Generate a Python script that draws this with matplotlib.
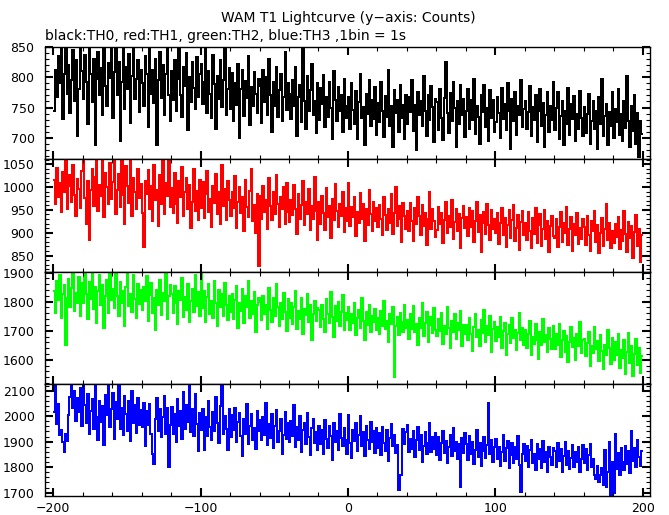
import numpy as np
import matplotlib
matplotlib.use("Agg")
import matplotlib.pyplot as plt
from matplotlib.ticker import MultipleLocator

plt.rcParams['font.family'] = ['DejaVu Sans']

title = "WAM T1 Lightcurve (y\u2212axis: Counts)"
subtitle = "black:TH0, red:TH1, green:TH2, blue:TH3 ,1bin = 1s"

t_start = -200
t_stop = 200

th0 = [
745, 812, 768, 835, 790, 852, 731, 806, 858, 772, 820, 741, 795, 846, 760, 829, 702, 781, 855, 810,
764, 838, 793, 722, 850, 805, 759, 831, 688, 797, 842, 770, 815, 738, 857, 786, 752, 824, 799, 861,
733, 809, 847, 771, 826, 694, 792, 855, 748, 818, 780, 839, 725, 803, 851, 764, 797, 829, 742, 813,
790, 752, 836, 805, 718, 849, 773, 812, 757, 831, 688, 795, 842, 766, 820, 738, 806, 854, 771, 727,
811, 763, 829, 745, 797, 852, 770, 734, 818, 786, 840, 712, 801, 759, 826, 783, 747, 834, 768, 806,
822, 756, 793, 848, 741, 810, 772, 733, 837, 789, 715, 802, 764, 829, 751, 795, 852, 738, 781, 816,
747, 807, 728, 790, 755, 823, 699, 781, 812, 736, 794, 766, 835, 721, 784, 752, 809, 773, 741, 798,
786, 724, 812, 759, 801, 738, 830, 771, 709, 793, 752, 818, 735, 779, 806, 727, 768, 843, 746, 790,
772, 731, 796, 753, 818, 702, 767, 788, 726, 849, 761, 715, 802, 744, 779, 823, 737, 760, 708, 791,
729, 782, 756, 804, 717, 768, 735, 792, 750, 698, 811, 763, 727, 784, 745, 770, 709, 797, 752, 733,
768, 714, 790, 746, 722, 777, 698, 759, 806, 733, 751, 688, 772, 740, 795, 719, 762, 731, 784, 705,
757, 726, 793, 744, 701, 769, 735, 812, 720, 752, 685, 779, 741, 763, 709, 788, 732, 755, 697, 771,
723, 768, 742, 795, 711, 754, 680, 776, 738, 761, 719, 802, 745, 702, 770, 729, 786, 751, 693, 764,
759, 712, 781, 733, 696, 766, 825, 741, 707, 774, 728, 793, 749, 684, 760, 722, 788, 737, 764, 701,
744, 781, 715, 762, 729, 798, 706, 753, 735, 690, 771, 742, 787, 718, 750, 695, 779, 732, 762, 709,
726, 768, 741, 699, 783, 731, 756, 712, 791, 745, 681, 764, 727, 776, 704, 752, 737, 795, 718, 748,
760, 715, 743, 786, 702, 751, 729, 770, 693, 744, 781, 720, 757, 685, 738, 775, 709, 753, 730, 792,
712, 749, 775, 698, 736, 761, 687, 744, 722, 783, 705, 756, 731, 769, 694, 740, 714, 778, 733, 702,
751, 707, 739, 772, 690, 728, 760, 715, 745, 681, 768, 722, 797, 703, 736, 756, 688, 743, 719, 775,
699, 748, 726, 781, 705, 739, 694, 760, 716, 803, 728, 684, 752, 711, 770, 690, 741, 667, 728, 706,
]

th1 = [
1015, 962, 1041, 978, 1009, 945, 1033, 990, 1058, 951, 1002, 1027, 968, 1049, 982, 937, 1018, 996, 953, 1035,
1066, 975, 920, 1012, 884, 994, 1040, 958, 1021, 1063, 947, 1005, 981, 1068, 935, 1030, 999, 962, 1052, 973,
1010, 1065, 941, 993, 1028, 956, 1070, 982, 919, 1045, 1003, 966, 1062, 937, 1019, 988, 951, 1039, 975, 1006,
944, 868, 1012, 985, 1038, 952, 1003, 926, 1049, 971, 993, 915, 1027, 962, 1064, 940, 1008, 981, 1066, 957,
998, 943, 1031, 962, 921, 1013, 977, 1044, 936, 989, 1020, 951, 1005, 910, 967, 1039, 948, 992, 927, 1016,
955, 1011, 932, 984, 1036, 946, 973, 912, 1002, 964, 1029, 940, 988, 919, 1047, 958, 995, 927, 1013, 971,
936, 989, 954, 1023, 910, 968, 1001, 943, 978, 904, 1016, 957, 935, 992, 1040, 926, 960, 899, 984, 828,
981, 930, 1003, 946, 972, 907, 1019, 958, 928, 990, 941, 1027, 963, 912, 977, 951, 999, 920, 1008, 945,
923, 972, 938, 1004, 951, 897, 985, 929, 960, 1012, 916, 967, 941, 995, 905, 958, 930, 1021, 947, 884,
968, 920, 981, 943, 906, 997, 935, 959, 889, 974, 927, 1006, 948, 913, 962, 936, 990, 901, 953, 925,
1008, 915, 957, 934, 978, 893, 946, 921, 987, 929, 962, 882, 951, 917, 993, 940, 904, 968, 926, 955,
912, 961, 929, 894, 977, 938, 906, 952, 921, 985, 897, 944, 1000, 915, 958, 931, 879, 965, 937, 908,
947, 903, 966, 925, 881, 954, 918, 979, 936, 895, 961, 914, 944, 872, 930, 988, 909, 951, 926, 890,
905, 956, 919, 942, 877, 928, 968, 899, 937, 913, 971, 886, 924, 951, 903, 940, 866, 933, 958, 911,
934, 892, 955, 913, 947, 879, 926, 968, 901, 939, 858, 921, 946, 897, 962, 916, 884, 950, 908, 931,
900, 942, 876, 921, 955, 894, 933, 869, 916, 949, 888, 927, 961, 882, 910, 938, 863, 924, 947, 896,
921, 884, 945, 903, 866, 932, 897, 954, 878, 916, 941, 871, 909, 950, 887, 926, 858, 914, 937, 893,
889, 931, 868, 912, 946, 880, 921, 899, 957, 873, 907, 935, 861, 918, 894, 942, 876, 910, 886, 929,
913, 872, 937, 894, 860, 925, 903, 948, 879, 916, 856, 899, 932, 870, 907, 963, 885, 921, 866, 904,
878, 919, 891, 935, 864, 906, 882, 947, 898, 857, 923, 889, 914, 845, 901, 938, 871, 909, 836, 896,
]

th2 = [
1838, 1762, 1871, 1805, 1893, 1744, 1826, 1858, 1652, 1812, 1879, 1783, 1846, 1905, 1768, 1830, 1797, 1884, 1751, 1863,
1795, 1902, 1827, 1741, 1866, 1810, 1906, 1775, 1849, 1725, 1838, 1893, 1790, 1859, 1708, 1821, 1874, 1760, 1903, 1806,
1843, 1778, 1901, 1819, 1752, 1868, 1797, 1835, 1716, 1852, 1910, 1786, 1826, 1763, 1890, 1808, 1745, 1861, 1793, 1839,
1772, 1849, 1801, 1888, 1735, 1823, 1864, 1760, 1812, 1702, 1841, 1790, 1876, 1754, 1829, 1803, 1897, 1741, 1818, 1858,
1826, 1761, 1853, 1794, 1722, 1838, 1807, 1881, 1748, 1816, 1773, 1862, 1730, 1801, 1845, 1764, 1890, 1785, 1833, 1752,
1902, 1777, 1836, 1729, 1815, 1860, 1758, 1803, 1744, 1871, 1796, 1718, 1840, 1782, 1827, 1751, 1865, 1790, 1736, 1818,
1763, 1827, 1740, 1806, 1855, 1711, 1795, 1769, 1842, 1728, 1818, 1783, 1870, 1745, 1801, 1757, 1834, 1697, 1789, 1812,
1798, 1736, 1820, 1757, 1789, 1705, 1848, 1772, 1731, 1814, 1750, 1862, 1781, 1718, 1795, 1742, 1829, 1766, 1700, 1808,
1745, 1796, 1722, 1781, 1838, 1706, 1769, 1740, 1812, 1688, 1774, 1753, 1826, 1729, 1790, 1668, 1759, 1803, 1735, 1777,
1772, 1712, 1790, 1741, 1697, 1808, 1756, 1726, 1833, 1749, 1680, 1784, 1735, 1798, 1715, 1765, 1822, 1704, 1760, 1738,
1781, 1703, 1757, 1726, 1795, 1684, 1743, 1770, 1711, 1812, 1732, 1668, 1764, 1720, 1789, 1695, 1750, 1729, 1776, 1702,
1745, 1690, 1768, 1718, 1802, 1707, 1733, 1663, 1756, 1724, 1781, 1542, 1715, 1749, 1686, 1762, 1731, 1697, 1790, 1709,
1736, 1673, 1758, 1706, 1784, 1695, 1722, 1650, 1743, 1711, 1795, 1682, 1728, 1765, 1660, 1719, 1748, 1691, 1777, 1702,
1683, 1741, 1699, 1762, 1655, 1718, 1690, 1781, 1711, 1640, 1733, 1695, 1756, 1672, 1727, 1703, 1768, 1646, 1720, 1689,
1721, 1667, 1745, 1690, 1632, 1712, 1759, 1680, 1703, 1647, 1738, 1694, 1773, 1660, 1715, 1686, 1750, 1628, 1706, 1729,
1664, 1713, 1679, 1749, 1642, 1698, 1728, 1618, 1689, 1721, 1657, 1743, 1674, 1701, 1635, 1693, 1760, 1667, 1709, 1650,
1702, 1640, 1688, 1733, 1615, 1679, 1655, 1724, 1668, 1604, 1695, 1651, 1742, 1662, 1687, 1628, 1710, 1671, 1639, 1715,
1638, 1690, 1651, 1722, 1609, 1667, 1699, 1626, 1681, 1592, 1660, 1713, 1643, 1676, 1600, 1688, 1647, 1731, 1622, 1669,
1671, 1612, 1659, 1697, 1580, 1648, 1624, 1712, 1636, 1665, 1597, 1687, 1630, 1568, 1652, 1618, 1702, 1641, 1586, 1676,
1598, 1660, 1617, 1689, 1572, 1635, 1606, 1668, 1553, 1627, 1694, 1589, 1648, 1545, 1620, 1671, 1581, 1640, 1556, 1612,
]

th3 = [
2018, 2121, 1968, 2047, 1925, 1944, 1897, 1858, 1932, 1904, 2005, 2076, 2128, 2032, 2099, 1983, 2070, 2015, 2110, 1962,
2130, 2044, 1975, 2088, 1930, 2022, 2067, 1951, 2126, 1996, 1908, 2059, 1977, 2041, 1886, 2083, 2005, 2131, 1958, 2030,
2092, 1911, 2055, 1987, 2127, 1949, 2034, 1926, 2078, 2008, 1940, 2061, 1902, 2097, 1972, 2043, 1935, 2070, 1964, 2025,
1956, 2052, 1885, 2019, 1967, 2048, 1931, 1852, 1812, 1990, 2071, 1943, 2027, 1918, 1995, 2080, 1929, 2033, 1801, 1966,
2037, 1932, 2008, 1900, 2066, 1963, 2021, 1912, 2094, 1951, 2045, 1978, 2122, 1936, 2030, 1921, 2087, 1969, 1862, 2013,
1944, 2027, 1866, 1995, 1921, 2058, 1957, 1908, 2017, 1940, 2075, 1973, 1893, 2040, 2128, 1931, 2001, 1950, 1868, 2029,
1917, 2003, 1946, 2031, 1898, 1978, 2014, 1922, 1843, 1987, 1931, 2046, 1889, 1963, 2010, 1908, 1952, 1871, 2022, 1940,
1984, 1905, 1998, 1927, 2053, 1888, 1969, 1916, 2008, 1874, 1960, 2024, 1899, 1942, 1990, 1850, 1928, 2015, 1911, 1973,
1898, 1981, 1922, 2043, 1880, 1957, 1906, 2000, 1861, 1946, 1975, 1890, 2012, 1918, 1847, 1953, 1989, 1893, 1936, 1868,
1962, 1889, 1945, 1852, 1985, 1910, 1874, 1960, 1921, 1830, 1972, 1899, 1940, 1866, 2010, 1915, 1882, 1953, 1905, 1851,
2003, 1893, 1836, 1944, 1902, 1975, 1864, 1927, 2000, 1885, 1938, 1845, 1961, 1908, 1871, 1979, 1897, 1942, 1855, 1953,
1876, 1935, 1849, 1959, 1896, 1863, 1947, 1826, 1915, 1970, 1882, 1928, 1857, 1887, 1712, 1771, 1768, 1948, 1890, 1937,
1965, 1858, 1912, 1873, 1943, 1840, 1905, 1956, 1866, 1926, 1822, 1884, 1939, 1853, 1896, 1972, 1861, 1918, 1870, 1933,
1849, 1917, 1828, 1893, 1941, 1855, 1904, 1816, 1879, 1928, 1844, 1955, 1862, 1899, 1833, 1889, 1721, 1914, 1856, 1935,
1890, 1829, 1922, 1851, 1898, 1812, 1868, 1947, 1840, 1893, 1805, 1863, 1917, 1836, 1887, 2052, 1852, 1906, 1820, 1881,
1910, 1834, 1881, 1806, 1859, 1926, 1825, 1874, 1902, 1797, 1849, 1895, 1816, 1878, 1833, 1921, 1810, 1704, 1853, 1890,
1826, 1884, 1801, 1866, 1908, 1815, 1852, 1790, 1889, 1831, 1870, 1798, 1902, 1822, 1860, 1783, 1879, 1840, 1808, 1877,
1862, 1799, 1893, 1826, 1870, 1780, 1844, 1898, 1808, 1865, 1792, 1837, 1886, 1801, 1858, 1819, 1880, 1783, 1833, 1888,
1815, 1871, 1790, 1846, 1889, 1802, 1834, 1770, 1755, 1806, 1742, 1768, 1797, 1731, 1868, 1722, 1783, 1898, 1690, 1821,
1698, 1931, 1794, 1857, 1768, 1876, 1819, 1789, 1885, 1811, 1862, 1777, 1940, 1826, 1874, 1800, 1905, 1838, 1806, 1865,
]

series = [th0, th1, th2, th3]
colors = ["black", "red", "#00ff00", "blue"]
ylims = [(664, 850.5), (814, 1060.5), (1516, 1902), (1687, 2125)]
ymajor = [50, 50, 100, 100]
yminor = [10, 10, 20, 20]

W, H = 669, 515
fig = plt.figure(figsize=(W / 100, H / 100), dpi=100)

left_px, right_px = 45, 650
edges_px = [47, 159.3, 272, 384.3, 496]

for i, (vals, col) in enumerate(zip(series, colors)):
    top, bot = edges_px[i], edges_px[i + 1]
    ax = fig.add_axes([left_px / W, 1 - bot / H, (right_px - left_px) / W, (bot - top) / H])
    edges = np.linspace(t_start, t_stop, len(vals) + 1)
    ax.stairs(vals, edges, color=col, lw=1.1, baseline=None, antialiased=False)
    ax.set_xlim(-205.6, 205)
    ax.set_ylim(*ylims[i])
    ax.xaxis.set_major_locator(MultipleLocator(100))
    ax.xaxis.set_minor_locator(MultipleLocator(20))
    ax.yaxis.set_major_locator(MultipleLocator(ymajor[i]))
    ax.yaxis.set_minor_locator(MultipleLocator(yminor[i]))
    ax.tick_params(which='both', direction='in', top=True, right=True, bottom=True, left=True)
    ax.tick_params(which='major', length=6, width=1.5, labelsize=9)
    ax.tick_params(which='minor', length=3, width=0.8)
    ax.tick_params(axis='y', pad=7.5)
    ax.tick_params(axis='x', pad=4)
    for s in ax.spines.values():
        s.set_linewidth(1.0)
    if i < 3:
        ax.tick_params(labelbottom=False)

fig.text(348 / W, 1 - 18 / H, title, ha='center', va='center', fontsize=10)
fig.text(45 / W, 1 - 36 / H, subtitle, ha='left', va='center', fontsize=10)

fig.savefig("out.png", dpi=100)
